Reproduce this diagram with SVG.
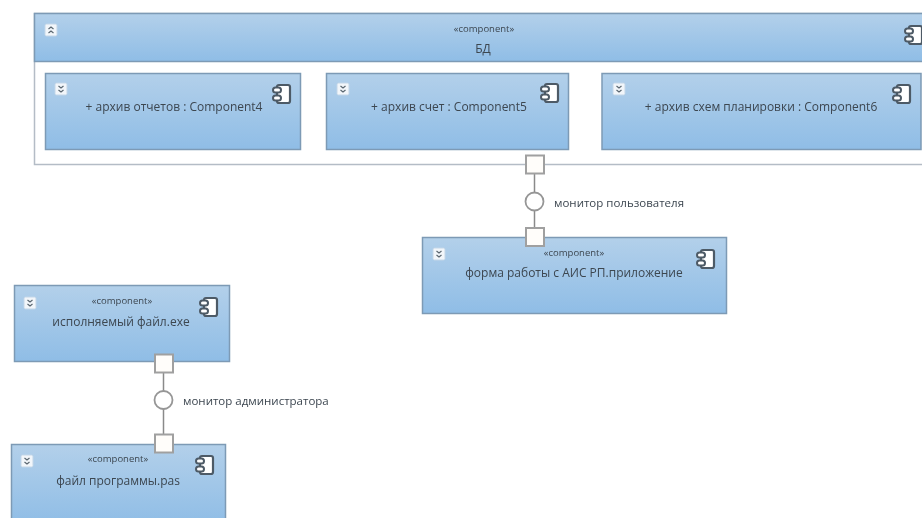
<svg xmlns="http://www.w3.org/2000/svg" width="922" height="518" viewBox="0 0 922 518">
  <defs>
    <linearGradient id="blue" x1="0" y1="0" x2="0" y2="1">
      <stop offset="0" stop-color="#b3d0ea"/>
      <stop offset="1" stop-color="#8fbde6"/>
    </linearGradient>
    <filter id="soft" x="-5%" y="-5%" width="110%" height="110%">
      <feGaussianBlur stdDeviation="0.55"/>
    </filter>
    <g id="icon">
      <rect x="5" y="1" width="13" height="18" rx="2" fill="#fff" stroke="#4d5a66" stroke-width="2.200"/>
      <rect x="1" y="3.500" width="8" height="5" rx="2.500" fill="#fff" stroke="#4d5a66" stroke-width="2"/>
      <rect x="1" y="11.500" width="8" height="5" rx="2.500" fill="#fff" stroke="#4d5a66" stroke-width="2"/>
    </g>
    <g id="down">
      <rect x="0" y="0" width="12" height="12" rx="1.500" fill="#f2f6fa" stroke="#c3d6e8"/>
      <path d="M3.500 3l2.500 2 2.500-2M3.500 7l2.500 2 2.500-2" fill="none" stroke="#5a6670" stroke-width="1.200"/>
    </g>
    <g id="up">
      <rect x="0" y="0" width="12" height="12" rx="1.500" fill="#f2f6fa" stroke="#c3d6e8"/>
      <path d="M3.500 5l2.500-2 2.500 2M3.500 9l2.500-2 2.500 2" fill="none" stroke="#5a6670" stroke-width="1.200"/>
    </g>
  </defs>
  <style>
    .box { fill: url(#blue); stroke: #7d9ab5; stroke-width: 1.500; }
    .frame { fill: #fff; stroke: #b4bcc6; stroke-width: 1.500; }
    .port { fill: #fffdfa; stroke: #a0a0a0; stroke-width: 2; }
    .lollipop { fill: #fff; stroke: #969696; stroke-width: 1.800; }
    .wire { fill: none; stroke: #8a8a8a; stroke-width: 1.500; }
    text { font-family: "Open Sans", "Noto Sans", "DejaVu Sans", sans-serif; fill: #3c4650; text-anchor: middle; }
    .name { font-size: 12px; }
    .stereo { font-size: 9.500px; }
    .label { font-size: 11.500px; text-anchor: start; }
  </style>
  <rect width="922" height="518" fill="#fff"/>
  <g filter="url(#soft)">
    <g id="node-bd">
      <rect class="frame" x="34.500" y="13.500" width="895" height="151"/>
      <rect class="box" x="34.500" y="13.500" width="895" height="48"/>
      <use href="#up" x="45" y="24"/>
      <text class="stereo" x="484" y="32">«component»</text>
      <text class="name" x="483" y="53">БД</text>
      <use href="#icon" x="904" y="25"/>
    </g>
    <g id="node-archive4">
      <rect class="box" x="45.500" y="73.500" width="255" height="76"/>
      <use href="#down" x="55" y="83"/>
      <use href="#icon" x="272" y="84"/>
      <text class="name" x="174" y="111">+ архив отчетов : Component4</text>
    </g>
    <g id="node-archive5">
      <rect class="box" x="326.500" y="73.500" width="242" height="76"/>
      <use href="#down" x="337" y="83"/>
      <use href="#icon" x="540" y="83"/>
      <text class="name" x="449" y="111">+ архив счет : Component5</text>
    </g>
    <g id="node-archive6">
      <rect class="box" x="602" y="73.500" width="319" height="76"/>
      <use href="#down" x="613" y="83"/>
      <use href="#icon" x="892" y="84"/>
      <text class="name" x="761" y="111">+ архив схем планировки : Component6</text>
    </g>
    <g id="node-form">
      <rect class="box" x="422.500" y="237.500" width="304" height="76"/>
      <use href="#down" x="433" y="248"/>
      <use href="#icon" x="696" y="249"/>
      <text class="stereo" x="574" y="256">«component»</text>
      <text class="name" x="574" y="277">форма работы с АИС РП.приложение</text>
    </g>
    <g id="node-exe">
      <rect class="box" x="14.500" y="285.500" width="215" height="76"/>
      <use href="#down" x="24" y="297"/>
      <use href="#icon" x="199" y="297"/>
      <text class="stereo" x="122" y="304">«component»</text>
      <text class="name" x="121" y="326">исполняемый файл.exe</text>
    </g>
    <g id="node-pas">
      <rect class="box" x="11.500" y="444.500" width="214" height="80"/>
      <use href="#down" x="21" y="455"/>
      <use href="#icon" x="195" y="455"/>
      <text class="stereo" x="118" y="462">«component»</text>
      <text class="name" x="118" y="485">файл программы.pas</text>
    </g>
    <g id="connectors">
      <path class="wire" d="M534.500 173V228"/>
      <path class="wire" d="M163.500 372V435"/>
    </g>
    <g id="interface-user">
      <rect class="port" x="526" y="155.500" width="18" height="18"/>
      <rect class="port" x="526" y="228" width="18" height="18"/>
      <circle class="lollipop" cx="534.500" cy="201.500" r="9"/>
      <text class="label" x="554" y="207">монитор пользователя</text>
    </g>
    <g id="interface-admin">
      <rect class="port" x="155" y="354.500" width="18" height="18"/>
      <rect class="port" x="155" y="434.500" width="18" height="18"/>
      <circle class="lollipop" cx="163.500" cy="400" r="9"/>
      <text class="label" x="183" y="405">монитор администратора</text>
    </g>
  </g>
</svg>
